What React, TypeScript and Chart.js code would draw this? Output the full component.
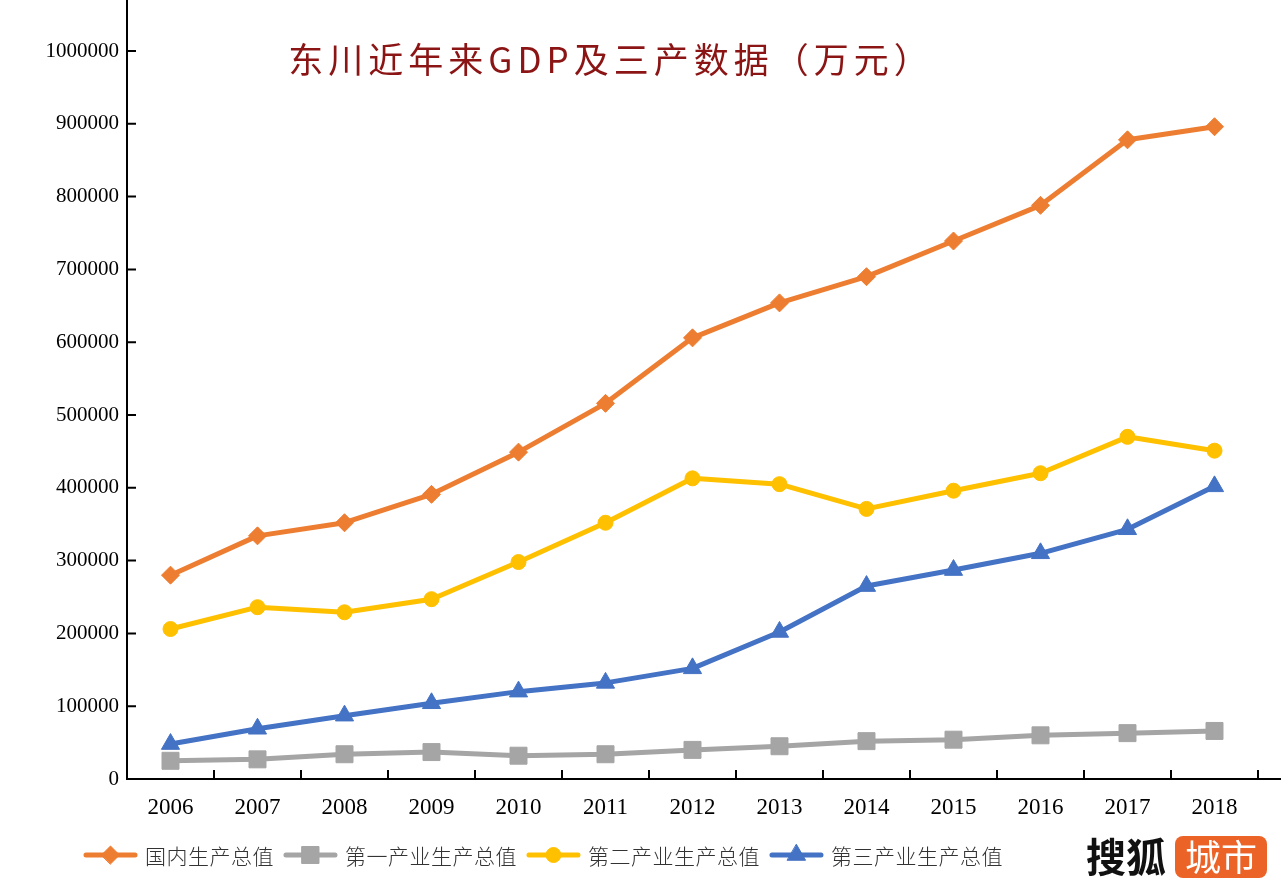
import React, { useEffect, useRef } from 'react';
import { Chart, registerables } from 'chart.js';
import { drawPoint } from 'chart.js/helpers';

Chart.register(...registerables);

const years = ['2006', '2007', '2008', '2009', '2010', '2011', '2012', '2013', '2014', '2015', '2016', '2017', '2018'];
const gdp = [280000, 334000, 352000, 391000, 449000, 516000, 606000, 654000, 690000, 739000, 788000, 878000, 896000];
const primary = [25000, 27000, 34000, 37000, 32000, 34000, 40000, 45000, 52000, 54000, 60000, 63000, 66000];
const secondary = [206000, 236000, 229000, 247000, 298000, 352000, 413000, 405000, 371000, 396000, 420000, 470000, 451000];
const tertiary = [48000, 69000, 87000, 104000, 120000, 132000, 152000, 202000, 265000, 287000, 310000, 343000, 402000];
const seriesNames = ['国内生产总值', '第一产业生产总值', '第二产业生产总值', '第三产业生产总值'];
const yMin = 0;
const yMax = 1000000;
const yStep = 100000;
const titleText = '东川近年来GDP及三产数据（万元）';
const watermarkText = '搜狐';
const watermarkBadge = '城市';

const colors = ['#ED7D31', '#A5A5A5', '#FFC000', '#4472C4'];
const pointStyles = ['rectRot', 'rect', 'circle', 'triangle'];
const pointRadii = [9, 12, 7.5, 10.5];

const decorPlugin = {
  id: 'decor',
  afterDraw(chart: any) {
    const { ctx, chartArea, scales } = chart;
    const xs = scales.x;
    const ys = scales.y;
    ctx.save();
    // axes
    ctx.strokeStyle = '#000';
    ctx.lineWidth = 2;
    ctx.lineCap = 'butt';
    const x0 = chartArea.left;
    const y0 = chartArea.bottom;
    ctx.beginPath();
    ctx.moveTo(x0, 0);
    ctx.lineTo(x0, y0 + 1);
    ctx.moveTo(x0 - 1, y0);
    ctx.lineTo(chart.width, y0);
    ys.ticks.forEach((_t: any, i: number) => {
      const y = ys.getPixelForTick(i);
      ctx.moveTo(x0, y);
      ctx.lineTo(x0 + 9, y);
    });
    const n = years.length;
    const w = (xs.right - xs.left) / n;
    for (let i = 1; i <= n; i++) {
      const x = xs.left + i * w;
      ctx.moveTo(x, y0);
      ctx.lineTo(x, y0 - 9);
    }
    ctx.stroke();

    // title
    ctx.fillStyle = '#8B1414';
    ctx.font = '35px "Noto Sans CJK SC"';
    (ctx as any).letterSpacing = '5px';
    ctx.textAlign = 'center';
    ctx.textBaseline = 'middle';
    ctx.fillText(titleText, 611, 60);
    (ctx as any).letterSpacing = '0px';

    // legend
    const cy = 855;
    let lx = 84;
    ctx.font = '300 21px "Noto Sans CJK SC"';
    (ctx as any).letterSpacing = '0.5px';
    ctx.textAlign = 'left';
    ctx.textBaseline = 'middle';
    chart.data.datasets.forEach((ds: any) => {
      ctx.strokeStyle = ds.borderColor;
      ctx.lineWidth = 5;
      ctx.lineCap = 'round';
      ctx.beginPath();
      ctx.moveTo(lx + 2, cy);
      ctx.lineTo(lx + 51, cy);
      ctx.stroke();
      ctx.fillStyle = ds.borderColor;
      ctx.lineWidth = 1;
      drawPoint(ctx, { pointStyle: ds.pointStyle, radius: ds.pointRadius, rotation: 0, borderWidth: 1 }, lx + 26.5, cy);
      ctx.fillStyle = '#333';
      ctx.fillText(ds.label, lx + 61, cy + 1);
      lx += 61 + ctx.measureText(ds.label).width + 10;
    });
    (ctx as any).letterSpacing = '0px';

    // watermark
    ctx.fillStyle = '#111';
    ctx.font = 'bold 40px "Noto Sans CJK SC"';
    ctx.textAlign = 'left';
    ctx.fillText(watermarkText, 1086, 857);
    ctx.fillStyle = '#EC6327';
    ctx.beginPath();
    (ctx as any).roundRect(1175, 836, 92, 42, 8);
    ctx.fill();
    ctx.fillStyle = '#fff';
    ctx.font = '36px "Noto Sans CJK SC"';
    ctx.textAlign = 'center';
    ctx.fillText(watermarkBadge, 1221, 857);
    ctx.restore();
  },
};

export default function App() {
  const canvasRef = useRef<HTMLCanvasElement | null>(null);

  useEffect(() => {
    document.body.style.margin = '0';
    document.body.style.overflow = 'hidden';
    const canvas = canvasRef.current;
    if (!canvas) return;
    const seriesData = [gdp, primary, secondary, tertiary];
    const chart = new Chart(canvas, {
      type: 'line',
      data: {
        labels: years,
        datasets: seriesData.map((d, i) => ({
          label: seriesNames[i],
          data: d,
          borderColor: colors[i],
          backgroundColor: colors[i],
          pointBackgroundColor: colors[i],
          pointBorderColor: colors[i],
          pointBorderWidth: 1,
          pointStyle: pointStyles[i],
          pointRadius: pointRadii[i],
          borderWidth: 5,
          borderCapStyle: 'round',
          borderJoinStyle: 'round',
          tension: 0,
          fill: false,
          order: 3 - i,
        })),
      },
      options: {
        animation: false,
        responsive: true,
        maintainAspectRatio: false,
        layout: { padding: { top: 51, right: 23, left: 0, bottom: 0 } },
        plugins: {
          legend: { display: false },
          tooltip: { enabled: false },
          title: { display: false },
        },
        scales: {
          x: {
            offset: true,
            grid: { display: false, drawTicks: false },
            border: { display: false },
            ticks: {
              autoSkip: false,
              maxRotation: 0,
              color: '#000',
              padding: 15,
              font: { family: '"Liberation Serif"', size: 23 },
            },
            afterFit: (s: any) => {
              s.height = 110;
            },
          },
          y: {
            min: yMin,
            max: yMax,
            grid: { display: false, drawTicks: false },
            border: { display: false },
            ticks: {
              stepSize: yStep,
              color: '#000',
              padding: 8,
              font: { family: '"Liberation Serif"', size: 21 },
              callback: (v: any) => String(v),
            },
            afterFit: (s: any) => {
              s.width = 127;
            },
          },
        },
      },
      plugins: [decorPlugin],
    });
    return () => chart.destroy();
  }, []);

  return (
    <div style={{ width: 1281, height: 889, position: 'relative', background: '#fff' }}>
      <canvas ref={canvasRef} />
    </div>
  );
}
